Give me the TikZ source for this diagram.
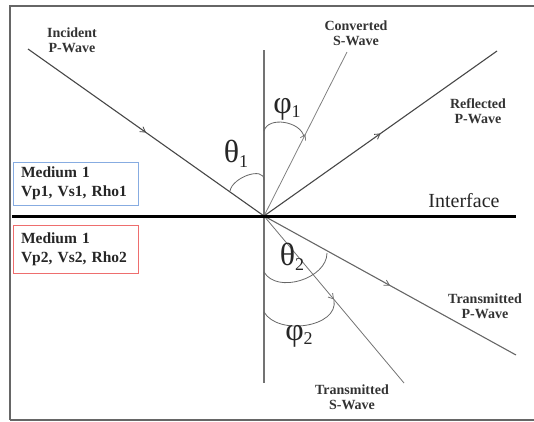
\documentclass[tikz,border=0pt]{standalone}
\usepackage{fontspec}
\setmainfont{Liberation Serif}
\usetikzlibrary{arrows.meta,decorations.markings}

\begin{document}
\begin{tikzpicture}[x=1pt,y=-1pt]
\tikzset{ray/.style={line width=1.1pt, draw=black!72},
  sray/.style={line width=0.8pt, draw=black!50},
  midarrow/.style={postaction={decorate}, decoration={markings,
    mark=at position 0.5 with {\arrow{Straight Barb[length=5pt,width=6pt,line width=0.8pt]}}}},
  anglearc/.style={line width=0.8pt, draw=black!60},
  wavelabel/.style={align=center, font=\fontsize{14}{15.5}\selectfont\bfseries, text=black!80, inner sep=0pt},
  greek/.style={font=\fontsize{32}{32}\selectfont, text=black!85, inner sep=0pt},
  mediumbox/.style={draw, line width=1pt, fill=white, align=left, text width=109pt,
    inner xsep=8pt, minimum width=125pt, font=\fontsize{15.5}{19}\selectfont\bfseries, text=black!85}}
\definecolor{boxblue}{RGB}{135,172,225}
\definecolor{boxred}{RGB}{238,110,110}
\useasboundingbox (0,0) rectangle (534,421);
\draw[line width=2pt, draw=black!60] (10,419.5) -- (10,5.5) -- (540,5.5);
\draw[line width=2pt, draw=black!60] (10,419.5) -- (540,419.5);
\coordinate (O) at (264,216);
\coordinate (inc) at (28,49);
\coordinate (conv) at (347,52);
\coordinate (refl) at (497,51);
\coordinate (trP) at (516,355);
\coordinate (trS) at (404,383);
\coordinate (vtop) at (264,50);
\coordinate (vbot) at (264,383);
\coordinate (ifl) at (12,216);
\coordinate (ifr) at (516,216);
\draw[line width=1.1pt, draw=black!55] (vtop) -- (vbot);
\draw[ray, midarrow] (inc) -- (O);
\draw[sray, midarrow] (O) -- (conv);
\draw[ray, midarrow] (O) -- (refl);
\draw[ray, draw=black!60, midarrow] (O) -- (trP);
\draw[sray, draw=black!55, midarrow] (O) -- (trS);
\draw[line width=3pt] (ifl) -- (ifr);
\coordinate (t1a) at (230,191);
\coordinate (t1b) at (264,180);
\coordinate (p1a) at (264,131);
\coordinate (p1b) at (304,137);
\coordinate (t2a) at (264,272);
\coordinate (t2b) at (327,253);
\coordinate (p2a) at (264,312);
\coordinate (p2b) at (334,300);
\draw[anglearc] (t1a) to[out=80, in=90] (t1b);
\draw[anglearc] (p1a) to[out=75, in=100] (p1b);
\draw[anglearc] (t2a) to[out=-60, in=-90] (t2b);
\draw[anglearc] (p2a) to[out=-60, in=-80] (p2b);
\node[greek] (th1) at (236,154) {θ\raisebox{-0.3ex}{\fontsize{18}{18}\selectfont 1}};
\node[greek] (ph1) at (287,109) {φ\raisebox{-0.3ex}{\fontsize{18}{18}\selectfont 1}};
\node[greek] (th2) at (292,257) {θ\raisebox{-0.3ex}{\fontsize{18}{18}\selectfont 2}};
\node[greek] (ph2) at (299,336) {φ\raisebox{-0.3ex}{\fontsize{18}{18}\selectfont 2}};
\node[wavelabel] (lbinc) at (72,40) {Incident\\P-Wave};
\node[wavelabel] (lbconv) at (356,33) {Converted\\S-Wave};
\node[wavelabel] (lbrefl) at (478,111) {Reflected\\P-Wave};
\node[wavelabel] (lbtrP) at (485,306) {Transmitted\\P-Wave};
\node[wavelabel] (lbtrS) at (352,397) {Transmitted\\S-Wave};
\node[font=\fontsize{20}{20}\selectfont, text=black!85, inner sep=0pt] (lbif) at (464,201) {Interface};
\node[mediumbox, draw=boxblue, minimum height=43pt] (med1) at (75.5,183.5) {Medium 1\\Vp1, Vs1, Rho1};
\node[mediumbox, draw=boxred, minimum height=48pt] (med2) at (75.5,249) {Medium 1\\Vp2, Vs2, Rho2};
\end{tikzpicture}
\end{document}
